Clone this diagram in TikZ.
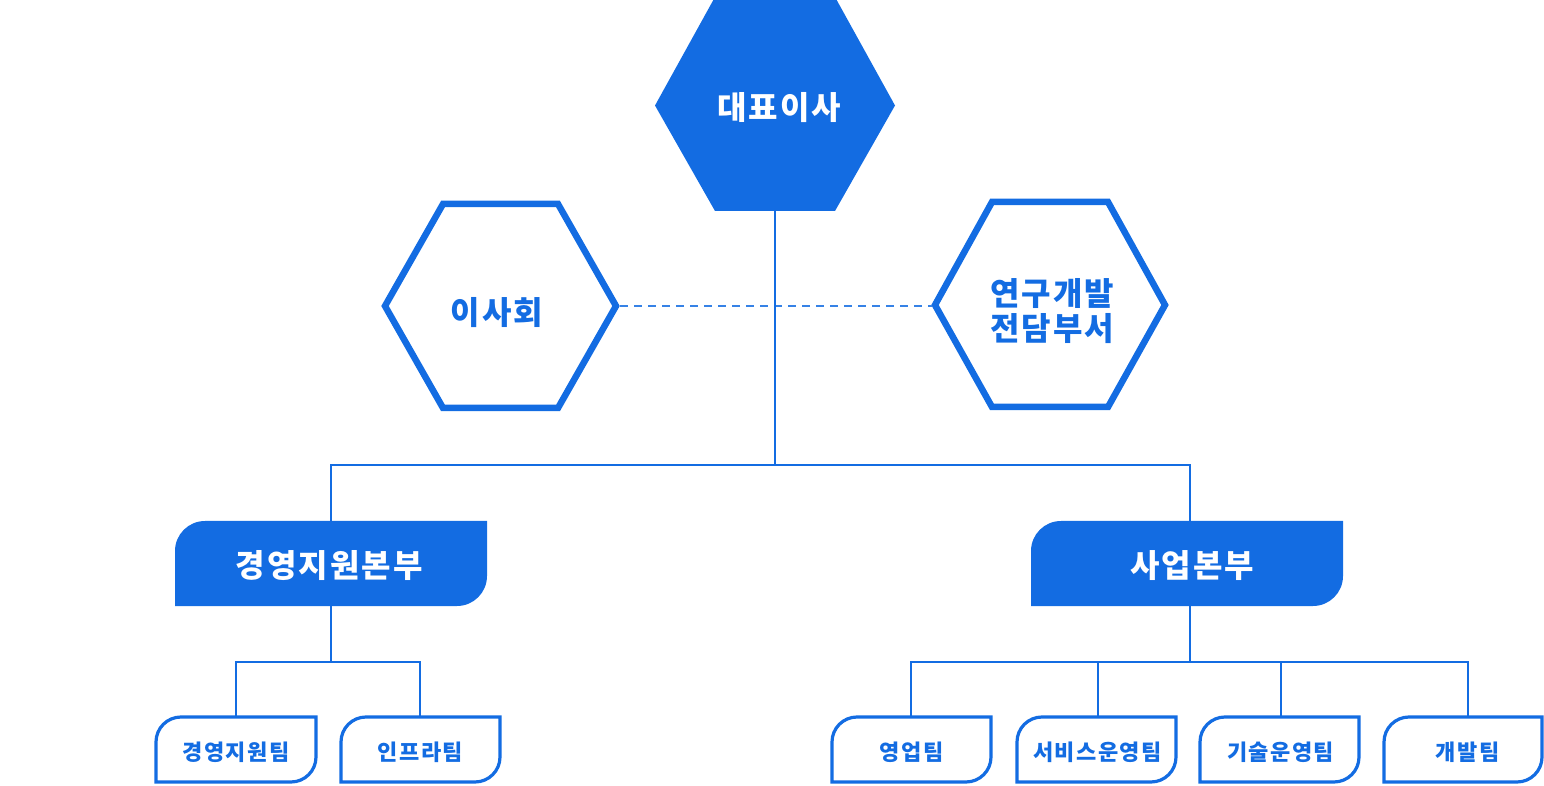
\documentclass[tikz,border=0pt]{standalone}
\usepackage{fontspec}
\setmainfont{Noto Sans CJK KR}
\newfontfamily\krwide{Noto Sans CJK KR}[LetterSpace=6.5]
\definecolor{kblue}{RGB}{19,108,226}
\begin{document}
\begin{tikzpicture}[x=1pt,y=1pt,
  conn/.style={draw=kblue,line width=1.4pt},
  hexline/.style={draw=kblue,line width=6.5pt,line join=miter},
  deptbox/.style={fill=kblue},
  teamline/.style={draw=kblue,line width=3.2pt,fill=white},
  bigw/.style={text=white,font=\krwide\fontsize{32}{36}\selectfont\bfseries,inner sep=0pt},
  bigb/.style={text=kblue,font=\krwide\fontsize{32}{36}\selectfont\bfseries,inner sep=0pt,align=center},
  smallb/.style={text=kblue,font=\krwide\fontsize{22}{24}\selectfont\bfseries,inner sep=0pt}]
\useasboundingbox (0,0) rectangle (1544,785);
% CEO hexagon
\fill[kblue] (655,679.5) -- (715,788) -- (835,788) -- (895,679.5) -- (835,574) -- (715,574) -- cycle;
\node[bigw] (ceo) at (779,677) {대표이사};
\coordinate (ceoS) at (775,574);
% board hexagon
\draw[hexline] (385,479) -- (443,581) -- (558,581) -- (616,479) -- (558,377) -- (443,377) -- cycle;
\node[bigb] (board) at (497,472) {이사회};
\coordinate (boardE) at (620,479);
% R&D hexagon
\draw[hexline] (935,480) -- (992,583) -- (1108,583) -- (1165,480) -- (1108,378) -- (992,378) -- cycle;
\node[bigb] (rnd) at (1052,474) {연구개발\\[-0.5pt]전담부서};
\coordinate (rndW) at (932,479);
\draw[draw=kblue!85,line width=2pt,dash pattern=on 8pt off 6pt] (boardE) -- (rndW);
% trunk
\coordinate (hub) at (775,320);
\coordinate (hubL) at (331,320);
\coordinate (hubR) at (1190,320);
\coordinate (d1N) at (331,264);
\coordinate (d2N) at (1190,264);
\draw[conn] (ceoS) -- (hub);
\draw[conn] (d1N) -- (hubL) -- (hubR) -- (d2N);
% department boxes
\fill[kblue] (175,179) -- (175,234) arc[start angle=180,end angle=90,radius=30] -- (487,264) -- (487,209) arc[start angle=0,end angle=-90,radius=30] -- cycle;
\node[bigw] (d1) at (329,219) {경영지원본부};
\fill[kblue] (1031,179) -- (1031,234) arc[start angle=180,end angle=90,radius=30] -- (1343,264) -- (1343,209) arc[start angle=0,end angle=-90,radius=30] -- cycle;
\node[bigw] (d2) at (1192,219) {사업본부};
% lower connectors
\coordinate (d1S) at (331,179);
\coordinate (d2S) at (1190,179);
\coordinate (h1) at (331,123);
\coordinate (h2) at (1190,123);
\coordinate (t1N) at (236,68);
\coordinate (t2N) at (420,68);
\coordinate (t3N) at (911,68);
\coordinate (t4N) at (1098,68);
\coordinate (t5N) at (1281,68);
\coordinate (t6N) at (1468,68);
\draw[conn] (d1S) -- (h1);
\draw[conn] (t1N) |- (h1) -| (t2N);
\draw[conn] (d2S) -- (h2);
\draw[conn] (t3N) |- (h2) -| (t6N);
\draw[conn] (t4N) -- (t4N |- h2);
\draw[conn] (t5N) -- (t5N |- h2);
% team boxes
\foreach \a/\b in {156/316,341/500,832/991,1017/1176,1200/1359,1384/1542}{
  \draw[teamline] (\a,3) -- (\a,43) arc[start angle=180,end angle=90,radius=25] -- (\b,68) -- (\b,28) arc[start angle=0,end angle=-90,radius=25] -- cycle;
}
\node[smallb] (t1) at (236,33) {경영지원팀};
\node[smallb] (t2) at (420.5,33) {인프라팀};
\node[smallb] (t3) at (911.5,33) {영업팀};
\node[smallb] (t4) at (1097.5,33) {서비스운영팀};
\node[smallb] (t5) at (1280.5,33) {기술운영팀};
\node[smallb] (t6) at (1467.5,33) {개발팀};
\end{tikzpicture}
\end{document}
